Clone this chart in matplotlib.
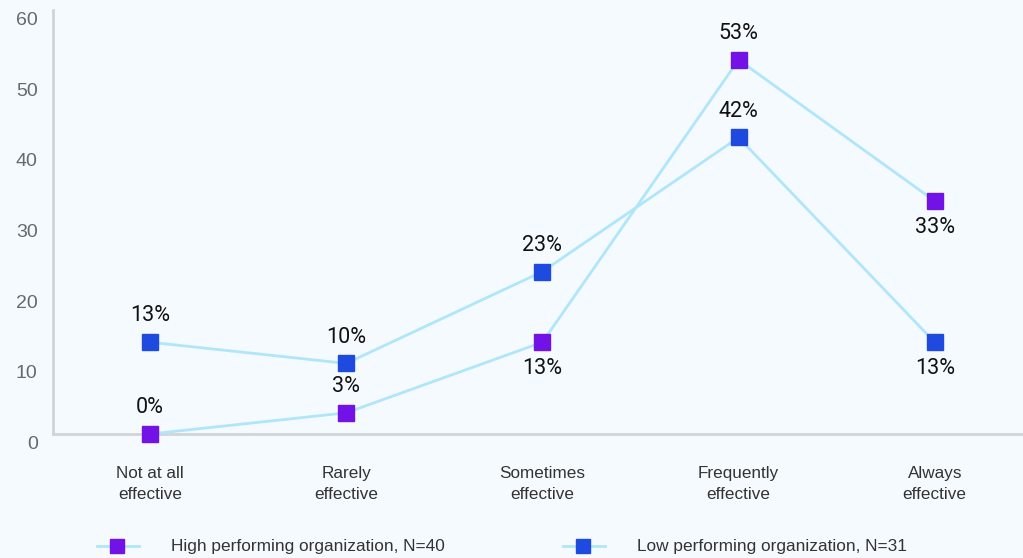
import matplotlib
matplotlib.use("Agg")
import matplotlib.pyplot as plt
import matplotlib.transforms as mtransforms
from matplotlib.lines import Line2D

categories = ["Not at all\neffective", "Rarely\neffective", "Sometimes\neffective",
              "Frequently\neffective", "Always\neffective"]
high = [0, 3, 13, 53, 33]
low = [13, 10, 23, 42, 13]
high_label_pos = ["above", "above", "below", "above", "below"]
low_label_pos = ["above", "above", "above", "above", "below"]
yticks = [0, 10, 20, 30, 40, 50, 60]
series_names = ["High performing organization, N=40", "Low performing organization, N=31"]

BG = "#f5faff"
LINE = "#b0e6fa"
C_HIGH = "#7212e6"
C_LOW = "#1f4ae0"
SPINE = "#d2d4d6"

plt.rcParams["font.family"] = ["Liberation Sans", "DejaVu Sans"]

fig = plt.figure(figsize=(10.23, 5.58), dpi=100, facecolor=BG)
ax = fig.add_axes([53 / 1023, 1 - 434 / 558, 1 - 53 / 1023, (434 - 10.4) / 558])
ax.set_facecolor(BG)

x = list(range(len(categories)))
ms = 11.5
ax.plot(x, high, color=LINE, lw=2.0, marker="s", ms=ms, mfc=C_HIGH, mec=C_HIGH, zorder=3, clip_on=False)
ax.plot(x, low, color=LINE, lw=2.0, marker="s", ms=ms, mfc=C_LOW, mec=C_LOW, zorder=3, clip_on=False)

off = 19
for vals, poss in [(high, high_label_pos), (low, low_label_pos)]:
    for xi, v, p in zip(x, vals, poss):
        ax.annotate(f"{v}%", (xi, v), xytext=(0, off if p == "above" else -off), textcoords="offset points",
                    ha="center", va="center", fontsize=15.5, color="#111111", family=["Roboto", "DejaVu Sans"])

ax.set_xlim(-0.495, 4.45)
ax.set_ylim(0, 60)
ax.set_yticks(yticks)
ax.set_yticklabels([str(t) for t in yticks], fontsize=14, color="#666a6e")
ax.tick_params(axis="y", length=0, pad=11)
shift = mtransforms.ScaledTranslation(0, -6 / 72, fig.dpi_scale_trans)
for lbl in ax.get_yticklabels():
    lbl.set_transform(lbl.get_transform() + shift)
ax.set_xticks(x)
ax.set_xticklabels(categories, fontsize=12.3, color="#333333", linespacing=1.5)
ax.tick_params(axis="x", length=0, pad=23)

for s in ["top", "right"]:
    ax.spines[s].set_visible(False)
for s in ["left", "bottom"]:
    ax.spines[s].set_color(SPINE)
    ax.spines[s].set_linewidth(2)
    ax.spines[s].set_zorder(1)

# legend
ly = 1 - 546 / 558
for (x0, x1, xm, xt), col, name in zip([(97, 139, 117, 171), (563, 605, 583, 637)], [C_HIGH, C_LOW], series_names):
    fig.add_artist(Line2D([x0 / 1023, x1 / 1023], [ly, ly], color=LINE, lw=2.0, transform=fig.transFigure))
    fig.add_artist(Line2D([xm / 1023], [ly], marker="s", ms=10.5, mfc=col, mec=col, lw=0, transform=fig.transFigure))
    fig.text(xt / 1023, ly, name, fontsize=12.4, color="#333333", va="center", ha="left")

fig.savefig("out.png", dpi=100, facecolor=BG)
